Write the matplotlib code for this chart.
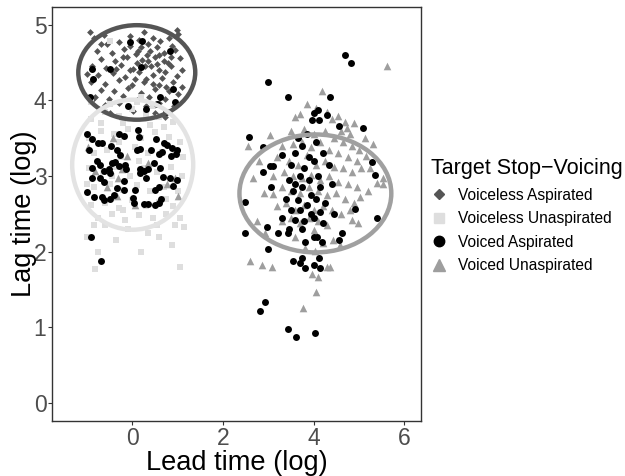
import numpy as np
import matplotlib
matplotlib.use("Agg")
import matplotlib.pyplot as plt
from matplotlib.patches import Ellipse
from matplotlib.lines import Line2D

plt.rcParams['font.family'] = ['Liberation Sans', 'DejaVu Sans']

# (lead, lag) pairs, one list per group
voiceless_asp = [
    (-0.93, 4.90), (-0.85, 4.82), (-0.62, 4.86), (0.25, 4.90), (1.02, 4.88), (0.45, 4.83), (0.99, 4.93),
    (-0.55, 4.74), (-0.30, 4.77), (-0.05, 4.72), (0.15, 4.80), (0.35, 4.74), (0.62, 4.78), (0.88, 4.72),
    (-0.78, 4.66), (-0.45, 4.63), (-0.18, 4.68), (0.08, 4.62), (0.40, 4.66), (0.70, 4.63), (0.95, 4.67),
    (0.55, 4.70), (-0.68, 4.55), (-0.38, 4.52), (-0.12, 4.57), (0.22, 4.53), (0.50, 4.58), (0.78, 4.50),
    (1.05, 4.56), (0.33, 4.60), (-0.88, 4.45), (-0.58, 4.43), (-0.25, 4.47), (0.02, 4.42), (0.28, 4.46),
    (0.58, 4.40), (0.86, 4.45), (0.70, 4.52), (-0.75, 4.34), (-0.42, 4.36), (-0.15, 4.31), (0.15, 4.37),
    (0.45, 4.33), (0.72, 4.37), (0.98, 4.32), (0.30, 4.28), (-0.92, 4.24), (-0.60, 4.22), (-0.30, 4.27),
    (0.00, 4.20), (0.25, 4.24), (0.60, 4.21), (0.90, 4.25), (-0.05, 4.40), (-0.70, 4.14), (-0.40, 4.12),
    (-0.10, 4.16), (0.20, 4.10), (0.50, 4.15), (0.80, 4.12), (0.38, 4.05), (-0.82, 4.04), (-0.52, 4.02),
    (-0.20, 4.06), (0.10, 4.00), (0.72, 4.02), (1.00, 4.08), (-0.60, 3.94), (-0.30, 3.97), (0.30, 3.93),
    (0.60, 3.96), (0.92, 3.92), (-0.50, 3.84), (0.02, 3.86), (0.50, 3.83), (-0.22, 3.76), (0.72, 3.78),
    (-0.88, 4.00), (0.10, 4.50), (0.42, 4.45), (-0.35, 4.42), (0.65, 4.30), (0.20, 4.70), (-0.05, 4.85),
    (0.82, 4.83), (1.10, 4.40), (1.10, 4.18), (-1.00, 4.35), (-0.70, 4.75), (0.55, 4.48), (0.05, 4.28),
    (0.35, 4.52), (0.85, 4.58), (-0.20, 4.58), (0.60, 4.60), (0.12, 4.65), (0.45, 4.22), (0.75, 4.18),
]

voiceless_unasp = [
    (-0.49, 4.78), (0.20, 4.05), (-0.90, 3.98), (-0.50, 3.95), (0.10, 3.98), (0.45, 3.92),
    (-0.90, 3.75), (-0.60, 3.85), (-0.30, 3.80), (0.00, 3.88), (0.30, 3.82), (0.60, 3.78), (0.90, 3.72),
    (-0.20, 3.70), (0.70, 3.65), (-0.95, 3.50), (-0.70, 3.60), (-0.40, 3.55), (-0.10, 3.62), (0.20, 3.50),
    (0.50, 3.58), (0.80, 3.52), (1.05, 3.45), (-0.85, 3.30), (-0.55, 3.35), (-0.25, 3.25), (0.05, 3.38),
    (0.35, 3.30), (0.65, 3.32), (0.95, 3.28), (-0.95, 3.10), (-0.65, 3.05), (-0.35, 3.12), (-0.05, 3.00),
    (0.25, 3.10), (0.55, 3.05), (0.85, 3.12), (1.10, 3.00), (-0.85, 2.85), (-0.50, 2.90), (-0.20, 2.82),
    (0.10, 2.88), (0.40, 2.80), (0.70, 2.86), (1.00, 2.80), (-0.90, 2.62), (-0.60, 2.65), (-0.30, 2.58),
    (0.00, 2.68), (0.30, 2.60), (0.60, 2.66), (0.90, 2.60), (-0.75, 2.45), (-0.45, 2.50), (-0.15, 2.42),
    (0.15, 2.48), (0.45, 2.44), (0.75, 2.50), (1.05, 2.45), (-0.60, 2.35), (-0.10, 2.30), (0.35, 2.25),
    (0.88, 2.09), (1.15, 2.32), (-1.00, 2.20), (-0.82, 1.77), (1.06, 1.80), (-0.35, 2.15), (0.60, 2.20),
    (-0.75, 2.00), (0.20, 2.00), (-0.70, 3.70), (0.40, 3.68), (-1.00, 2.90), (1.12, 3.25), (0.15, 3.20),
    (-0.45, 3.00), (0.75, 2.70), (-0.20, 2.55), (0.95, 2.35), (-0.85, 2.35), (0.55, 2.35), (-0.30, 3.45),
]

voiced_asp = [
    # upper-left, inside the voiceless aspirated cloud
    (-0.04, 4.77), (0.22, 4.78), (-0.88, 4.41), (-0.49, 4.41), (-0.86, 4.28), (0.20, 4.44), (0.84, 4.65),
    (0.90, 4.15), (0.62, 4.04), (-0.93, 4.04), (0.55, 3.95), (-0.10, 3.92), (0.30, 3.88), (0.75, 3.85),
    (0.95, 3.98),
    # left cluster
    (-0.99, 3.56), (-0.88, 3.49), (-0.76, 3.44), (-0.67, 3.44), (-0.96, 3.34), (-0.46, 3.40), (-0.29, 3.56),
    (-0.18, 3.53), (-0.34, 3.34), (-0.28, 3.28), (0.12, 3.61), (0.15, 3.51), (0.10, 3.35), (0.18, 3.36),
    (0.52, 3.49), (0.69, 3.44), (0.76, 3.41), (0.88, 3.37), (0.99, 3.34), (0.97, 3.29), (0.59, 3.29),
    (0.42, 3.35), (0.65, 3.32), (0.85, 3.26), (-0.78, 3.20), (-0.89, 3.11), (-0.71, 3.15), (-0.62, 3.06),
    (-0.52, 3.09), (-0.44, 3.17), (-0.39, 3.19), (-0.49, 3.04), (-0.30, 3.13), (-0.15, 3.15), (-0.13, 3.09),
    (0.18, 3.09), (0.25, 3.06), (0.34, 3.09), (0.47, 3.17), (0.62, 3.11), (0.84, 2.98), (0.99, 2.95),
    (-0.88, 2.97), (-0.72, 2.98), (-0.63, 2.92), (-0.34, 2.84), (-0.19, 2.93), (-0.18, 2.82), (0.07, 2.81),
    (0.18, 3.04), (0.31, 2.98), (0.51, 2.81), (0.60, 2.86), (0.91, 2.87), (0.67, 2.99), (-0.99, 2.79),
    (-0.85, 2.72), (-0.67, 2.72), (-0.63, 2.68), (-0.49, 2.69), (-0.41, 2.75), (0.02, 2.71), (0.03, 2.64),
    (0.25, 2.63), (0.34, 2.63), (0.51, 2.62), (0.60, 2.65), (0.64, 2.70), (-0.90, 2.20), (-0.68, 1.87),
    # right cluster
    (4.70, 4.60), (4.83, 4.50), (3.00, 4.25), (3.44, 4.04), (4.37, 4.05), (2.58, 3.51), (2.89, 3.38),
    (4.10, 3.87), (4.02, 3.83), (3.97, 3.74), (4.13, 3.74), (4.30, 3.81), (5.10, 3.64), (4.57, 3.66),
    (3.31, 3.28), (3.04, 3.13), (3.10, 3.13), (2.89, 3.05), (3.07, 2.86), (5.36, 3.01), (5.29, 3.18),
    (3.65, 3.50), (3.85, 3.55), (3.75, 3.40), (4.05, 3.45), (3.60, 3.30), (3.90, 3.25), (4.20, 3.30),
    (3.50, 3.15), (3.80, 3.10), (4.00, 3.20), (4.35, 3.15), (3.70, 3.00), (3.45, 2.95), (3.60, 2.90),
    (3.90, 2.95), (4.10, 3.00), (3.55, 2.80), (3.75, 2.85), (3.95, 2.75), (4.15, 2.85), (4.40, 2.90),
    (3.40, 2.70), (3.65, 2.68), (3.85, 2.62), (4.05, 2.70), (4.25, 2.65), (3.50, 2.55), (3.70, 2.55),
    (3.95, 2.50), (4.15, 2.52), (4.45, 2.50), (3.30, 2.45), (3.60, 2.42), (3.80, 2.40), (4.00, 2.45),
    (4.20, 2.38), (3.45, 2.30), (3.75, 2.30), (2.49, 2.66), (2.49, 2.25), (3.00, 2.04), (3.22, 2.25),
    (3.44, 2.25), (2.98, 2.32), (3.55, 1.88), (3.70, 1.85), (3.82, 1.79), (4.00, 1.83), (4.15, 1.79),
    (3.75, 1.92), (4.13, 1.91), (3.82, 2.13), (4.00, 2.20), (4.08, 2.20), (4.19, 2.13), (4.63, 2.25),
    (4.57, 2.15), (5.40, 2.45), (4.92, 2.56), (2.93, 1.34), (2.82, 1.22), (3.44, 0.98), (3.62, 0.87),
    (4.04, 0.93),
]

voiced_unasp = [
    # left cluster
    (-0.42, 3.50), (-0.11, 3.26), (-0.82, 3.06), (-0.22, 3.09), (-0.31, 2.98), (0.35, 3.17), (0.77, 2.89),
    (1.00, 2.73), (-0.55, 2.85), (0.95, 2.97), (-0.97, 3.38), (-0.33, 2.74), (0.07, 2.62),
    # right cluster
    (5.63, 4.45), (4.19, 4.12), (3.04, 3.54), (4.70, 3.72), (4.74, 3.64), (4.41, 3.75), (5.14, 3.50),
    (5.32, 3.42), (5.16, 3.26), (5.54, 2.98), (5.54, 2.89), (5.40, 2.91), (3.85, 3.95), (4.05, 3.90),
    (4.30, 3.85), (4.55, 3.80), (3.70, 3.82), (4.90, 3.70), (4.60, 3.60), (3.50, 3.60), (3.80, 3.62),
    (4.00, 3.55), (4.25, 3.60), (4.45, 3.50), (4.65, 3.45), (4.85, 3.40), (5.00, 3.35), (3.30, 3.40),
    (3.55, 3.42), (3.75, 3.45), (3.95, 3.38), (4.15, 3.45), (4.35, 3.35), (4.55, 3.30), (4.75, 3.25),
    (4.95, 3.20), (3.20, 3.25), (3.45, 3.20), (3.65, 3.15), (3.85, 3.28), (4.05, 3.15), (4.25, 3.20),
    (4.45, 3.12), (4.65, 3.10), (4.85, 3.05), (5.05, 3.10), (3.10, 3.00), (3.35, 3.05), (3.55, 3.00),
    (3.75, 2.98), (3.95, 3.02), (4.15, 2.95), (4.35, 3.00), (4.55, 2.92), (4.75, 2.90), (4.95, 2.85),
    (5.20, 2.80), (2.67, 2.98), (2.91, 2.78), (3.11, 2.76), (3.30, 2.85), (3.50, 2.80), (3.70, 2.78),
    (3.90, 2.85), (4.10, 2.80), (4.30, 2.75), (4.50, 2.78), (4.70, 2.70), (4.90, 2.65), (3.20, 2.60),
    (3.40, 2.65), (3.60, 2.55), (3.80, 2.62), (4.00, 2.55), (4.20, 2.60), (4.40, 2.55), (4.60, 2.50),
    (4.80, 2.55), (5.03, 2.72), (2.76, 2.40), (2.93, 2.25), (3.30, 2.40), (3.50, 2.45), (3.70, 2.38),
    (3.90, 2.45), (4.10, 2.40), (4.30, 2.35), (4.85, 2.42), (4.99, 2.38), (3.60, 2.20), (4.00, 2.28),
    (4.43, 2.16), (4.59, 2.09), (3.82, 2.05), (4.04, 2.01), (4.20, 2.12), (2.60, 1.88), (2.87, 1.83),
    (3.09, 1.80), (3.97, 1.70), (4.10, 1.67), (4.30, 1.80), (4.37, 1.80), (4.06, 1.46), (3.77, 1.26),
    (2.55, 3.40), (2.80, 3.20), (3.60, 3.78), (4.80, 3.55), (5.25, 3.10),
]

# confidence ellipses: centre, width, height (lead / lag units)
ell_x = [0.10, 0.01, 4.04]
ell_y = [4.37, 3.15, 2.77]
ell_w = [2.58, 2.67, 3.35]
ell_h = [1.25, 1.72, 1.56]
ell_col = ["#555555", "#e3e3e3", "#a0a0a0"]

groups = ["Voiceless Aspirated", "Voiceless Unaspirated", "Voiced Aspirated", "Voiced Unaspirated"]
colors = ["#555555", "#dedede", "#000000", "#9e9e9e"]
markers = ["D", "s", "o", "^"]
sizes = [12, 22, 25, 30]
data = [voiceless_asp, voiceless_unasp, voiced_asp, voiced_unasp]

fig = plt.figure(figsize=(6.25, 4.76), dpi=100)
ax = fig.add_axes([0.0832, 0.1155, 0.5904, 0.8705])

order = [0, 1, 3, 2]
for i in order:
    pts = np.array(data[i])
    ax.scatter(pts[:, 0], pts[:, 1], marker=markers[i], s=sizes[i], color=colors[i],
               linewidths=0, zorder=2)

for cx, cy, w, h, c in zip(ell_x, ell_y, ell_w, ell_h, ell_col):
    ax.add_patch(Ellipse((cx, cy), w, h, fill=False, edgecolor=c, lw=3.2, zorder=3))

ax.set_xlim(-1.77, 6.37)
ax.set_ylim(-0.24, 5.24)
ax.set_xticks([0, 2, 4, 6])
ax.set_yticks([0, 1, 2, 3, 4, 5])
ax.tick_params(labelsize=16.5, labelcolor="#4d4d4d", color="#333333", length=3, width=0.8, pad=1)
for sp in ax.spines.values():
    sp.set_color("#333333")
    sp.set_linewidth(1.0)
ax.set_xlabel("Lead time (log)", fontsize=19.6)
ax.set_ylabel("Lag time (log)", fontsize=19.6)
ax.xaxis.set_label_coords(0.5, -0.07)
ax.yaxis.set_label_coords(-0.04, 0.5)

handles = [Line2D([], [], marker=m, color=c, linestyle="none", markersize=ms)
           for m, c, ms in zip(markers, colors, [5, 7, 7.5, 8])]
fig.legend(handles, groups, title="Target Stop\u2212Voicing", loc="upper left",
           bbox_to_anchor=(0.677, 0.684), frameon=False, fontsize=11.2, title_fontsize=15.5,
           alignment="left", borderpad=0, handlelength=1.0, handletextpad=0.75, labelspacing=0.55)

fig.savefig("out.png", dpi=100)
